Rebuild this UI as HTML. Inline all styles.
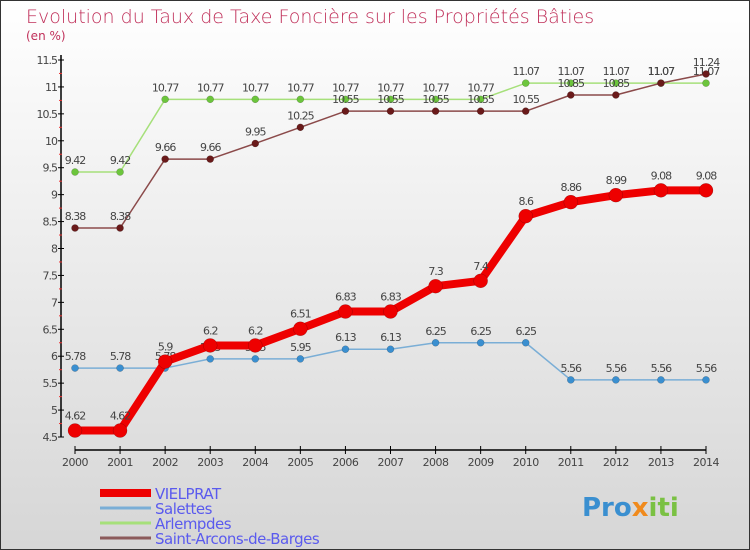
<!DOCTYPE html>
<html><head><meta charset="utf-8"><style>
body{margin:0}
#c{width:750px;height:550px;position:relative;background:linear-gradient(#fff,#d6d6d6);box-sizing:border-box;border:1px solid #333;font-family:"DejaVu Sans","Liberation Sans",sans-serif;overflow:hidden}
text{font-family:"DejaVu Sans","Liberation Sans",sans-serif}
</style></head><body>
<div id="c">
<svg id="s" width="750" height="550" style="position:absolute;left:-1px;top:-1px">
<text x="26" y="23" font-size="19" fill="#c0305a" style="font-weight:300">Evolution du Taux de Taxe Foncière sur les Propriétés Bâties</text>
<text x="26" y="40" font-size="12" fill="#c0305a">(en %)</text>
<g id="axes"></g><g id="series"></g><g id="legend"></g>
<text x="582" y="516" font-size="26" font-weight="bold" fill="#3a8fd0">Pro<tspan fill="#f08a1c">x</tspan><tspan fill="#7ac143">iti</tspan></text>
</svg></div>
<script>
const years=[2000,2001,2002,2003,2004,2005,2006,2007,2008,2009,2010,2011,2012,2013,2014];
const yTicks=[4.5,5,5.5,6,6.5,7,7.5,8,8.5,9,9.5,10,10.5,11,11.5];
const yTickLabels=["4.5","5","5.5","6","6.5","7","7.5","8","8.5","9","9.5","10","10.5","11","11.5"];
const vielprat=[4.62,4.62,5.9,6.2,6.2,6.51,6.83,6.83,7.3,7.4,8.6,8.86,8.99,9.08,9.08];
const salettes=[5.78,5.78,5.78,5.95,5.95,5.95,6.13,6.13,6.25,6.25,6.25,5.56,5.56,5.56,5.56];
const arlempdes=[9.42,9.42,10.77,10.77,10.77,10.77,10.77,10.77,10.77,10.77,11.07,11.07,11.07,11.07,11.07];
const saintArcons=[8.38,8.38,9.66,9.66,9.95,10.25,10.55,10.55,10.55,10.55,10.55,10.85,10.85,11.07,11.24];
const NS="http://www.w3.org/2000/svg";
function X(i){return 75+i*(706-75)/14;}
function Y(v){return 437-(v-4.5)*(437-60)/7;}
function mk(t,a,p){const e=document.createElementNS(NS,t);for(const k in a)e.setAttribute(k,a[k]);p.appendChild(e);return e;}
const ax=document.getElementById('axes');
let e=mk('line',{x1:61,y1:55,x2:61,y2:437,stroke:'#000','stroke-width':1.5},ax);


yTicks.forEach((v,i)=>{
 mk('line',{x1:58,y1:Y(v),x2:64,y2:Y(v),stroke:'#000'},ax);
 if(i<yTicks.length-1)mk('line',{x1:59,y1:Y(v+0.25),x2:62,y2:Y(v+0.25),stroke:'#e33'},ax);
 const t=mk('text',{x:57,y:Y(v)+4,'font-size':11,'text-anchor':'end',fill:'#444','letter-spacing':'-1'},ax);
 t.textContent=yTickLabels[i];
 
 
});
e=mk('line',{x1:75,y1:450,x2:706,y2:450,stroke:'#000','stroke-width':1.5},ax);


years.forEach((y,i)=>{
 mk('line',{x1:X(i),y1:446,x2:X(i),y2:454,stroke:'#000'},ax);
 const t=mk('text',{x:X(i),y:466,'font-size':11,'text-anchor':'middle',fill:'#444','letter-spacing':'-0.5'},ax);
 t.textContent=y;
 
 
});
const sg=document.getElementById('series');
function draw(data,color,dot,w,r,name){
 const g=mk('g',{},sg);
 
 
 mk('polyline',{points:data.map((v,i)=>X(i)+','+Y(v)).join(' '),fill:'none',stroke:color,'stroke-width':w,'stroke-linejoin':'round'},g);
 data.forEach((v,i)=>{
  const c=mk('circle',{cx:X(i),cy:Y(v),r:r,fill:dot,stroke:'rgba(0,0,0,0.3)','stroke-width':0.5},g);
  
  
  const t=mk('text',{x:X(i),y:Y(v)-8-(r>4?3:0),'font-size':11,'text-anchor':'middle',fill:'#444','letter-spacing':'-1'},g);
  t.textContent=String(v);
  
  
 });
}
draw(salettes,'#7aaed6','#3a8fd0',1.5,3.5,'salettes');
draw(arlempdes,'#a6e07a','#6cc53c',1.5,3.5,'arlempdes');
draw(saintArcons,'#8b4a4a','#6a1a1a',1.5,3.5,'saint-arcons');
draw(vielprat,'#ee0000','#ee0000',8,7,'vielprat');
const lg=document.getElementById('legend');
const items=[['VIELPRAT','#ee0000',8],['Salettes','#7aaed6',3],['Arlempdes','#a6e07a',3],['Saint-Arcons-de-Barges','#8b5a5a',3]];
items.forEach((it,i)=>{
 const y=493+i*15;
 const g=mk('g',{},lg);
 
 
 mk('line',{x1:100,y1:y,x2:151,y2:y,stroke:it[1],'stroke-width':it[2]},g);
 const t=mk('text',{x:155,y:y+6,'font-size':15,fill:'#5a5aee','letter-spacing':'-0.5'},g);
 t.textContent=it[0];
});
</script>
</body></html>
